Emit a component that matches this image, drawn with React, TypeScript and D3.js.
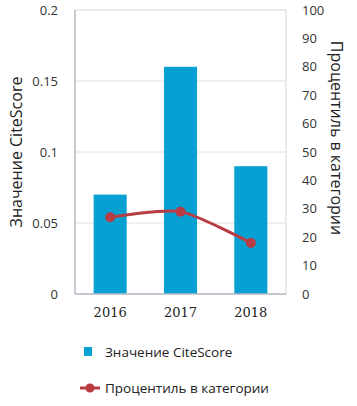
import React from "react";
import * as d3 from "d3";

const years = ["2016", "2017", "2018"];
const citeScore = [0.07, 0.16, 0.09];
const percentile = [27, 29, 18];
const leftTicks = [0, 0.05, 0.1, 0.15, 0.2];
const rightTicks = [0, 10, 20, 30, 40, 50, 60, 70, 80, 90, 100];
const leftTitle = "Значение CiteScore";
const rightTitle = "Процентиль в категории";
const legendBar = "Значение CiteScore";
const legendLine = "Процентиль в категории";

const W = 357, H = 406;
const m = { left: 75, right: 286, top: 10, bottom: 294 };
const font = "'Open Sans', 'DejaVu Sans', sans-serif";
const barColor = "#07a0d2";
const lineColor = "#b83c44";

export default function App() {
  const x = d3.scaleBand<string>().domain(years).range([m.left, m.right]).paddingInner(0.53).paddingOuter(0.265);
  const yL = d3.scaleLinear().domain([0, 0.2]).range([m.bottom, m.top]);
  const yR = d3.scaleLinear().domain([0, 100]).range([m.bottom, m.top]);
  const pts: [number, number][] = years.map((yr, i) => [x(yr)! + x.bandwidth() / 2, yR(percentile[i])]);
  const line = d3.line().curve(d3.curveCardinal.tension(0.3))(pts) || "";
  const fmt = (v: number) => (v === 0 ? "0" : String(v));
  return (
    <svg width={W} height={H} style={{ position: "absolute", left: 0, top: 0 }}>
      <rect x={0} y={0} width={W} height={H} fill="#fff" />
      {leftTicks.slice(1, -1).map((t) => (
        <line key={t} x1={m.left} x2={m.right} y1={yL(t)} y2={yL(t)} stroke="#e0e0e0" />
      ))}
      <rect x={m.left} y={m.top} width={m.right - m.left} height={m.bottom - m.top} fill="none" stroke="#d6d6d6" />
      {years.map((yr, i) => (
        <rect key={yr} x={x(yr)} y={yL(citeScore[i])} width={x.bandwidth()} height={m.bottom - yL(citeScore[i])} fill={barColor} />
      ))}
      <line x1={m.left} x2={m.left} y1={m.top} y2={m.bottom} stroke="#a9adb8" />
      <line x1={m.left} x2={m.right} y1={m.bottom} y2={m.bottom} stroke="#b8bcc8" strokeWidth={1.5} />
      <path d={line} fill="none" stroke={lineColor} strokeWidth={3} />
      {pts.map((p, i) => (
        <circle key={i} cx={p[0]} cy={p[1]} r={5} fill={lineColor} />
      ))}
      {leftTicks.map((t) => (
        <text key={t} x={58} y={yL(t)} dy="0.35em" textAnchor="end" fontFamily={font} fontSize={13} fill="#333">{fmt(t)}</text>
      ))}
      {rightTicks.map((t) => (
        <text key={t} x={302} y={yR(t)} dy="0.35em" textAnchor="start" fontFamily={font} fontSize={13} fill="#333">{t}</text>
      ))}
      {years.map((yr) => (
        <text key={yr} x={x(yr)! + x.bandwidth() / 2} y={317} textAnchor="middle" fontFamily="'DejaVu Serif', 'Liberation Serif', serif" fontSize={13} fill="#222">{yr}</text>
      ))}
      <text transform={`translate(22,152) rotate(-90)`} textAnchor="middle" fontFamily={font} fontSize={16} fill="#222">{leftTitle}</text>
      <text transform={`translate(331,138) rotate(90)`} textAnchor="middle" fontFamily={font} fontSize={16} fill="#222">{rightTitle}</text>
      <rect x={84} y={347} width={8} height={9} fill={barColor} />
      <text x={105} y={357} fontFamily={font} fontSize={13.5} fill="#222">{legendBar}</text>
      <line x1={80} x2={100} y1={388} y2={388} stroke={lineColor} strokeWidth={3} />
      <circle cx={90} cy={388} r={4.5} fill={lineColor} />
      <text x={105} y={393} fontFamily={font} fontSize={13.5} fill="#222">{legendLine}</text>
    </svg>
  );
}
